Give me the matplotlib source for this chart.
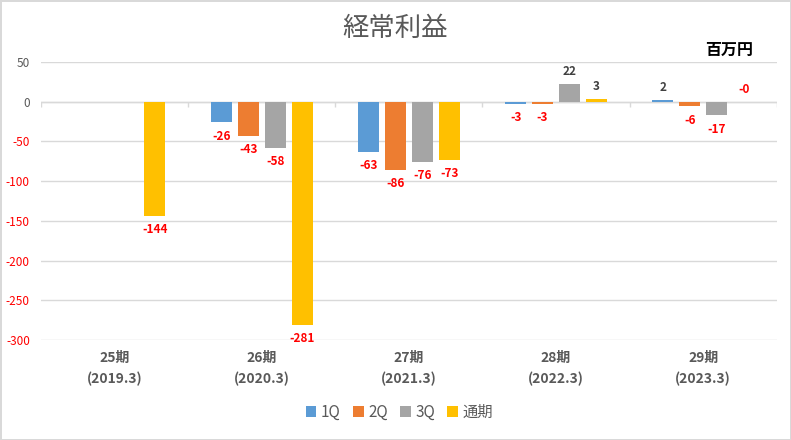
import matplotlib.pyplot as plt
import numpy as np

plt.rcParams['font.family'] = ['Noto Sans CJK JP', 'DejaVu Sans']

# data (百万円)
periods = ["25期\n(2019.3)", "26期\n(2020.3)", "27期\n(2021.3)", "28期\n(2022.3)", "29期\n(2023.3)"]
series_names = ["1Q", "2Q", "3Q", "通期"]
q1 = [np.nan, -26, -63, -3, 2]
q2 = [np.nan, -43, -86, -3, -6]
q3 = [np.nan, -58, -76, 22, -17]
full_year = [-144, -281, -73, 3, -0.3]
colors = ["#5B9BD5", "#ED7D31", "#A5A5A5", "#FFC000"]

yticks = [50, 0, -50, -100, -150, -200, -250, -300]

fig = plt.figure(figsize=(7.91, 4.40), dpi=100)
fig.patch.set_edgecolor("#d9d9d9")
fig.patch.set_linewidth(2)
ax = fig.add_axes([0.0518, 0.2273, 0.9302, 0.6318])

x = np.arange(len(periods))
width = 0.143
step = 0.183
all_series = [q1, q2, q3, full_year]

for i, (vals, name, c) in enumerate(zip(all_series, series_names, colors)):
    pos = x + (i - 1.5) * step
    ax.bar(pos, vals, width, color=c, label=name, zorder=3)
    for px, v in zip(pos, vals):
        if np.isnan(v):
            continue
        txt = f"{v:.0f}"
        col = "#FF0000" if v < 0 else "#404040"
        # labels outside the bar end; "-0" sits above the axis like the positives
        if v >= -0.5:
            ax.annotate(txt, (px, max(v, 0)), xytext=(0, 9), textcoords="offset points",
                        ha="center", va="center", fontsize=8.5, fontweight="bold", color=col)
        else:
            ax.annotate(txt, (px, v), xytext=(0, -10), textcoords="offset points",
                        ha="center", va="center", fontsize=8.5, fontweight="bold", color=col)

ax.set_ylim(-300, 50)
ax.set_xlim(-0.5, len(periods) - 0.5)
ax.set_yticks(yticks)
ax.set_yticklabels([str(t) for t in yticks], fontsize=8.5)
for lbl, t in zip(ax.get_yticklabels(), yticks):
    lbl.set_color("#FF0000" if t < 0 else "#595959")
ax.tick_params(axis="y", length=0, pad=8)
ax.grid(axis="y", color="#d9d9d9", linewidth=1, zorder=0)
ax.axhline(0, color="#d9d9d9", linewidth=1, zorder=2)
ax.vlines(np.arange(len(periods) + 1) - 0.5, -7, 0, color="#d9d9d9", linewidth=1, zorder=2)

ax.set_xticks(x)
ax.set_xticklabels(periods, fontsize=10, fontweight="bold", color="#595959", linespacing=1.6)
ax.tick_params(axis="x", length=0, pad=8)
for s in ax.spines.values():
    s.set_visible(False)

fig.text(0.5, 0.935, "経常利益", ha="center", va="center", fontsize=19, color="#595959")
fig.text(0.922, 0.886, "百万円", ha="center", va="center", fontsize=11.5, fontweight="bold", color="black")

fig.legend(loc="center", bbox_to_anchor=(0.505, 0.063), ncol=4, frameon=False,
           fontsize=11, handlelength=0.7, handleheight=0.7, handletextpad=0.3,
           columnspacing=0.8, labelcolor="#595959")

fig.savefig("out.png", dpi=100)
